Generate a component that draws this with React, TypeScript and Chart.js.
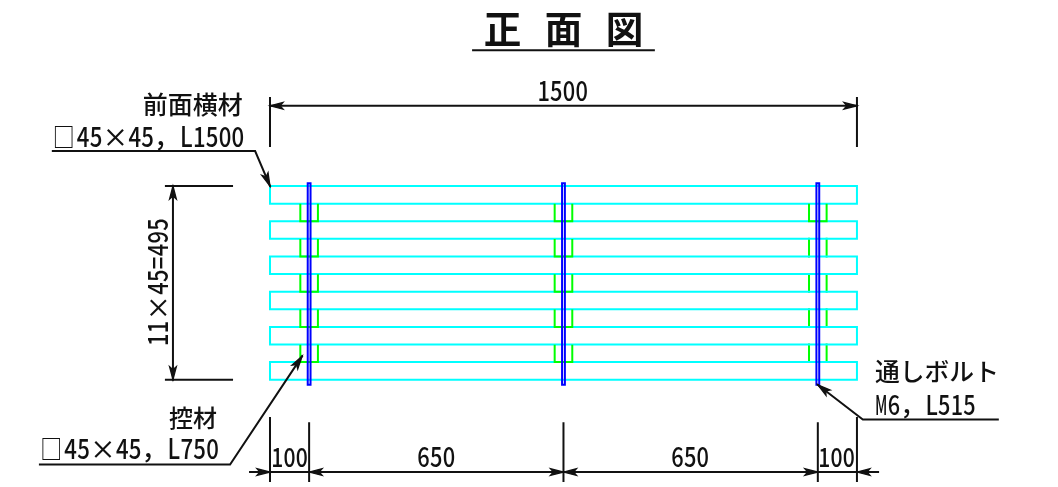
import React, { useEffect, useRef } from "react";
import { Chart, registerables } from "chart.js";

Chart.register(...registerables);

// Drawing values, all in millimetres of the drawing
const overallLength = 1500;
const boltPositions = [100, 750, 1400];
const railBottoms = [0, 90, 180, 270, 360, 450];
const railHeight = 45;
const gapBottoms = [45, 135, 225, 315, 405];
const gapHeight = 45;
const backingHalfWidth = 22.5;
const boltHalfWidth = 3.6;
const boltBottom = -13;
const boltTop = 502;

// Dimension and leader lines
type P = [number, number];
const blackLines: P[][] = [
  [[519, 842], [981, 842]],
  [[0, 700], [overallLength, 700]],
  [[0, 720], [0, 597]],
  [[overallLength, 720], [overallLength, 597]],
  [[-555, 584.5], [-38, 584.5], [0, 495]],
  [[-266, 495], [-97, 495]],
  [[-266, 0], [-97, 0]],
  [[-248, 495], [-248, 0]],
  [[-588, -217], [-102, -217], [82, 60]],
  [[1860, -102], [1515, -102], [1400, -13]],
  [[-51, -236], [1554, -236]],
  [[0, -98], [0, -259]],
  [[100, -111], [100, -259]],
  [[750, -111], [750, -259]],
  [[1400, -111], [1400, -259]],
  [[1500, -98], [1500, -259]],
];
// [tip, a point on the shaft]
const arrows: [P, P][] = [
  [[0, 700], [100, 700]],
  [[1500, 700], [1400, 700]],
  [[0, 495], [-38, 584.5]],
  [[-248, 495], [-248, 400]],
  [[-248, 0], [-248, 100]],
  [[82, 60], [-102, -217]],
  [[1400, -13], [1515, -102]],
  [[0, -236], [-51, -236]],
  [[100, -236], [200, -236]],
  [[750, -236], [650, -236]],
  [[750, -236], [850, -236]],
  [[1400, -236], [1300, -236]],
  [[1500, -236], [1554, -236]],
];

// Text
const titleText = "正面図";
const overallText = "1500";
const frontName = "前面横材";
const frontSpec = "□45×45，L1500";
const heightText = "11×45=495";
const backName = "控材";
const backSpec = "□45×45，L750";
const sideText = "100";
const midText = "650";
const boltName = "通しボルト";
const boltSpec = "M6，L515";

type Label = { t: string; x: number; y: number; cell: number; pitch?: number; rot?: boolean };
const textLayout: Label[] = [
  { t: titleText, x: 546, y: 860, cell: 18.8, pitch: 61 },
  { t: overallText, x: 683, y: 712, cell: 12.7 },
  { t: frontName, x: -325, y: 679, cell: 12.5 },
  { t: frontSpec, x: -560, y: 595, cell: 12.9 },
  { t: heightText, x: -261, y: 86, cell: 12.8, rot: true },
  { t: backName, x: -258, y: -121, cell: 12 },
  { t: backSpec, x: -592, y: -203, cell: 12.9 },
  { t: sideText, x: 2.6, y: -223, cell: 12.3 },
  { t: midText, x: 376, y: -223, cell: 12.7 },
  { t: midText, x: 1025, y: -223, cell: 12.7 },
  { t: sideText, x: 1400.5, y: -223, cell: 12.3 },
  { t: boltName, x: 1546, y: -3, cell: 12.4 },
  { t: boltSpec, x: 1546, y: -90, cell: 12.6 },
];

const FONT = '"Noto Sans CJK JP"';
const CYAN = "#00ffff";
const GREEN = "#00ff00";
const BLUE = "#0000ff";
const BLACK = "#111111";

const line = (pts: P[], color: string, width: number) => ({
  data: pts.map(([x, y]) => ({ x, y })),
  borderColor: color,
  borderWidth: width,
  showLine: true,
  pointRadius: 0,
  tension: 0,
  borderCapStyle: "square" as const,
  borderJoinStyle: "miter" as const,
  fill: false,
});

const rect = (x0: number, x1: number, y0: number, y1: number): P[] => [
  [x0, y0], [x1, y0], [x1, y1], [x0, y1], [x0, y0],
];

const annotate = {
  id: "annotate",
  afterDatasetsDraw(chart: any) {
    const { ctx, scales } = chart;
    const X = (v: number) => scales.x.getPixelForValue(v);
    const Y = (v: number) => scales.y.getPixelForValue(v);
    ctx.save();
    ctx.strokeStyle = BLACK;
    ctx.fillStyle = BLACK;
    for (const [tip, tail] of arrows) {
      const tx = X(tip[0]), ty = Y(tip[1]);
      const a = Math.atan2(Y(tail[1]) - ty, X(tail[0]) - tx);
      ctx.save();
      ctx.translate(tx, ty);
      ctx.rotate(a);
      ctx.beginPath();
      ctx.moveTo(0, 0);
      ctx.lineTo(13, -3.4);
      ctx.lineTo(10, 0);
      ctx.lineTo(13, 3.4);
      ctx.closePath();
      ctx.lineWidth = 1.3;
      ctx.stroke();
      ctx.fill();
      ctx.restore();
    }
    ctx.textBaseline = "alphabetic";
    ctx.textAlign = "left";
    for (const l of textLayout) {
      ctx.save();
      ctx.translate(X(l.x), Y(l.y));
      if (l.rot) ctx.rotate(-Math.PI / 2);
      let pen = 0;
      for (const ch of Array.from(l.t)) {
        const half = ch.charCodeAt(0) < 128;
        const w = half ? l.cell : l.cell * 2;
        const size = half ? l.cell * 2.15 : l.cell * 2;
        ctx.font = `${l.pitch ? 700 : 500} ${size}px ${FONT}`;
        const mw = ctx.measureText(ch).width;
        const sx = half ? Math.min(1, (w * 0.98) / mw) : ch === "□" ? 0.85 : 1;
        ctx.save();
        ctx.translate(pen + (w - mw * sx) / 2, 0);
        ctx.scale(sx, 1);
        ctx.fillText(ch, 0, 0);
        ctx.restore();
        pen += l.pitch ?? w;
      }
      ctx.restore();
    }
    ctx.restore();
  },
};

export default function App() {
  const ref = useRef<HTMLCanvasElement>(null);
  useEffect(() => {
    const ds: any[] = [];
    const lastCol = boltPositions[boltPositions.length - 1];
    const topGap = gapBottoms[gapBottoms.length - 1];
    // Backing members whose lower edge is hidden by the rail
    for (const c of boltPositions) {
      for (const g of gapBottoms) {
        const l = c - backingHalfWidth, r = c + backingHalfWidth;
        if (c === lastCol && g !== topGap) {
          ds.push(line([[l, g + gapHeight], [l, g]], GREEN, 2));
          ds.push(line([[r, g + gapHeight], [r, g]], GREEN, 2));
        }
      }
    }
    for (const b of railBottoms) ds.push(line(rect(0, overallLength, b, b + railHeight), CYAN, 2));
    for (const c of boltPositions) {
      for (const g of gapBottoms) {
        const l = c - backingHalfWidth, r = c + backingHalfWidth;
        if (c !== lastCol || g === topGap) {
          ds.push(line([[l, g + gapHeight - 3], [l, g], [r, g], [r, g + gapHeight - 3]], GREEN, 2));
        }
      }
    }
    for (const c of boltPositions) {
      ds.push(line(rect(c - boltHalfWidth, c + boltHalfWidth, boltBottom, boltTop), BLUE, 2));
    }
    for (const l of blackLines) ds.push(line(l, BLACK, 2));
    ds.reverse();

    const chart = new Chart(ref.current!, {
      type: "scatter",
      data: { datasets: ds },
      options: {
        animation: false,
        responsive: false,
        devicePixelRatio: 1,
        layout: { padding: 0 },
        plugins: { legend: { display: false }, tooltip: { enabled: false }, title: { display: false } },
        scales: {
          x: { type: "linear", min: -690, max: 2013.8, display: false },
          y: { type: "linear", min: -274.2, max: 970.4, display: false },
        },
      },
      plugins: [annotate],
    } as any);
    return () => chart.destroy();
  }, []);
  return (
    <div style={{ position: "fixed", left: 0, top: 0, width: 1058, height: 487, background: "#fff" }}>
      <canvas ref={ref} width={1058} height={487} style={{ display: "block", filter: "blur(0.3px)" }} />
    </div>
  );
}
